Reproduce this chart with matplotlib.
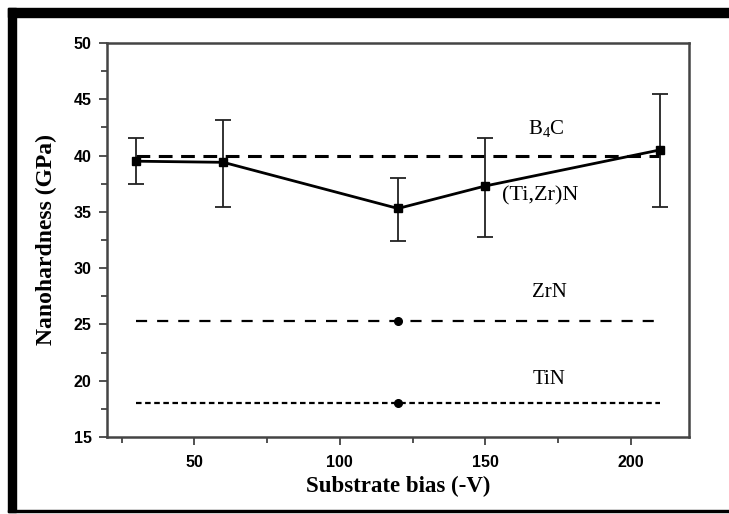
import numpy as np
import matplotlib
matplotlib.use("Agg")
import matplotlib.pyplot as plt
from matplotlib.patches import Rectangle
from matplotlib.ticker import MultipleLocator

# (Ti,Zr)N nanohardness vs substrate bias
bias = [30, 60, 120, 150, 210]
hardness = [39.5, 39.4, 35.3, 37.3, 40.5]
err_low = [37.5, 35.4, 32.4, 32.8, 35.4]
err_high = [41.6, 43.2, 38.0, 41.6, 45.5]

# reference materials
ref_x = [30, 210]
b4c = 40.0
zrn = 25.3
tin = 18.0
ref_point_x = 120

fig = plt.figure(figsize=(7.29, 5.14), dpi=100)
W, H = 729, 514

# black frame around the figure
fig.patches.append(Rectangle((8 / W, 1 - 17 / H), 1 - 8 / W, 9 / H,
                             transform=fig.transFigure, color='black'))
fig.patches.append(Rectangle((8 / W, 1 - 512 / H), 8 / W, (512 - 8) / H,
                             transform=fig.transFigure, color='black'))
fig.patches.append(Rectangle((8 / W, 1 - 512 / H), 1 - 8 / W, 2 / H,
                             transform=fig.transFigure, color='black'))

ax = fig.add_axes([107 / W, 1 - 437 / H, (689 - 107) / W, (437 - 43) / H])

yerr = np.array([np.array(hardness) - np.array(err_low),
                 np.array(err_high) - np.array(hardness)])
ax.errorbar(bias, hardness, yerr=yerr, fmt='s-', color='black', ms=6,
            lw=2, ecolor='#222222', elinewidth=1.3, capsize=6, capthick=1.3,
            zorder=3)

l1, = ax.plot(ref_x, [b4c, b4c], color='black', lw=2.2)
l1.set_dashes([4.5, 2.8])
l2, = ax.plot(ref_x, [zrn, zrn], color='black', lw=1.6)
l2.set_dashes([5, 4.5])
l3, = ax.plot(ref_x, [tin, tin], color='black', lw=1.6)
l3.set_dashes([2.5, 1.6])
ax.plot([ref_point_x, ref_point_x], [zrn, tin], 'o', color='black', ms=5.5,
        ls='none')

serif = 'Liberation Serif'
plt.rcParams['mathtext.fontset'] = 'custom'
plt.rcParams['mathtext.rm'] = serif
ax.text(171, 42.4, r'$\mathregular{B_4C}$', family=serif, fontsize=15,
        ha='center', va='center')
ax.text(169, 36.4, '(Ti,Zr)N', family=serif, fontsize=16, ha='center',
        va='center')
ax.text(172, 27.8, 'ZrN', family=serif, fontsize=15, ha='center',
        va='center')
ax.text(172, 20.1, 'TiN', family=serif, fontsize=15, ha='center',
        va='center')

ax.set_xlim(20, 220)
ax.set_ylim(15, 50)
ax.xaxis.set_major_locator(MultipleLocator(50))
ax.xaxis.set_minor_locator(MultipleLocator(25))
ax.yaxis.set_major_locator(MultipleLocator(5))
ax.yaxis.set_minor_locator(MultipleLocator(2.5))
ax.tick_params(which='both', direction='out', width=1.2, color='#333333')
ax.tick_params(which='major', length=6)
ax.tick_params(which='minor', length=4)
ax.tick_params(axis='x', pad=7)
ax.tick_params(axis='y', pad=5)
for lab in ax.get_xticklabels() + ax.get_yticklabels():
    lab.set_family('Liberation Sans')
    lab.set_fontweight('bold')
    lab.set_fontsize(11.5)
for sp in ax.spines.values():
    sp.set_linewidth(1.8)
    sp.set_color('#444444')

ax.set_xlabel('Substrate bias (-V)', family=serif, fontweight='bold',
              fontsize=16.5, labelpad=4)
ax.set_ylabel('Nanohardness (GPa)', family=serif, fontweight='bold',
              fontsize=17, labelpad=12)

fig.savefig('out.png', dpi=100)
